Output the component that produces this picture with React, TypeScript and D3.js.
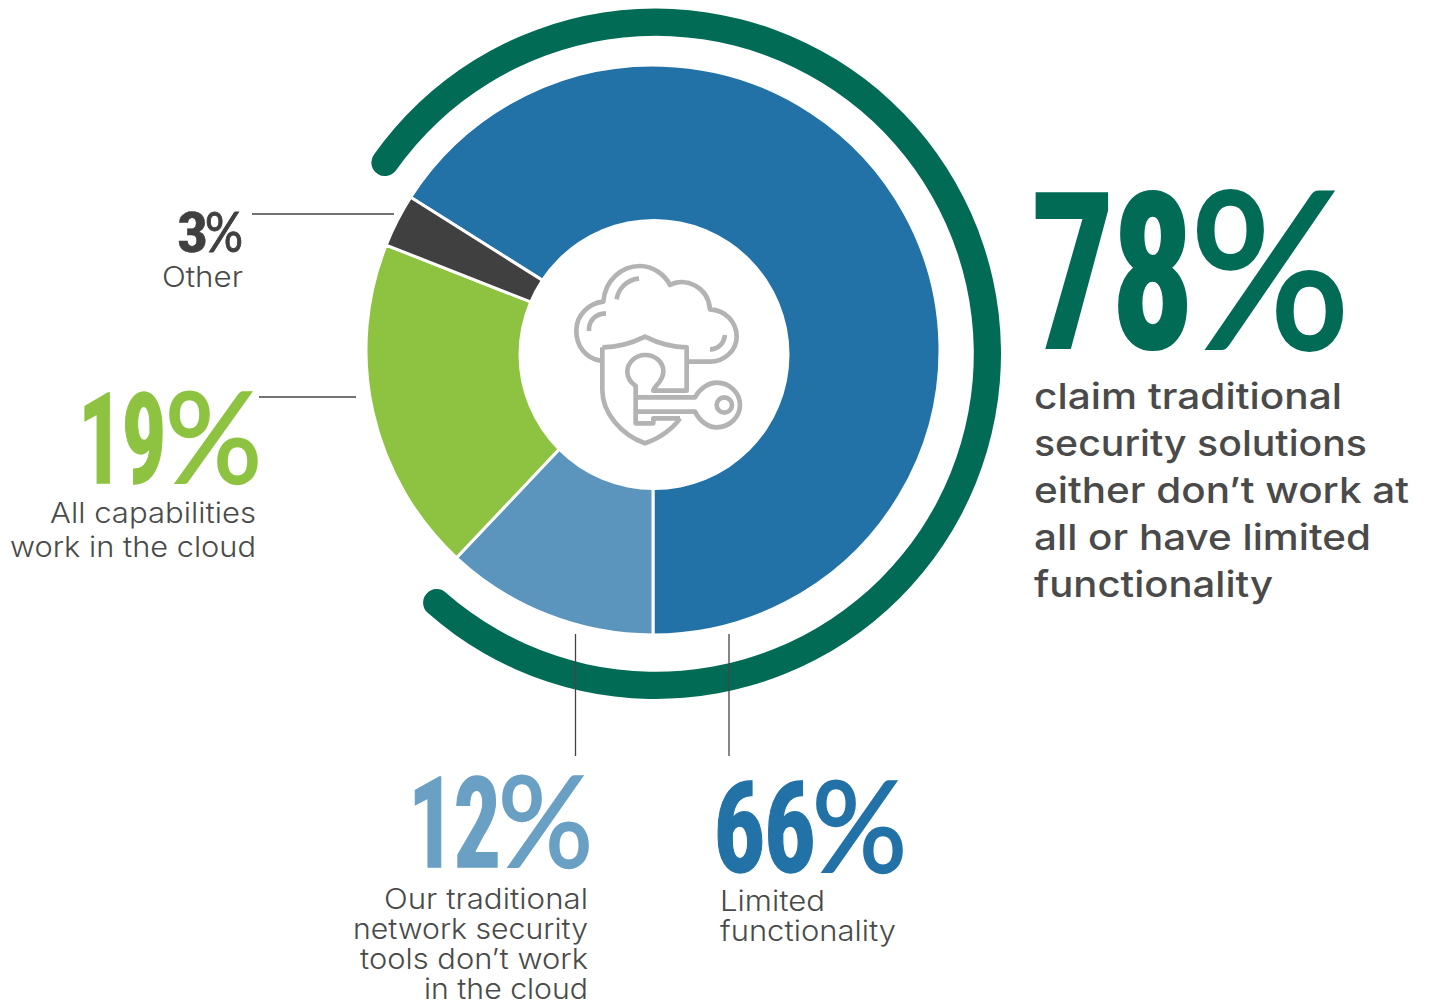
import React from "react";
import * as d3 from "d3";

// Survey answers, in the clockwise order of the donut
const segmentNames = ["Limited functionality", "Network tools fail", "All capabilities", "Other"];
const segmentValues = [66, 12, 19, 3];
const segmentColors = ["#2272a7", "#5b95bd", "#8dc341", "#404040"];
const claimShare = 78;
const claimLines = [
  "claim traditional",
  "security solutions",
  "either don’t work at",
  "all or have limited",
  "functionality",
];
const otherLines = ["Other"];
const capableLines = ["All capabilities", "work in the cloud"];
const networkLines = ["Our traditional", "network security", "tools don’t work", "in the cloud"];
const limitedLines = ["Limited", "functionality"];

const WIDTH = 1429;
const HEIGHT = 1002;
const FOREST = "#026b55";
const BODY = "#4a4a4a";
const LINE_FONT = "Inter, sans-serif";
const NUM_FONT = "'Liberation Sans Narrow', 'Roboto Condensed', Roboto, sans-serif";
const SIGN_FONT = "Lato, sans-serif";

const toRad = (deg: number) => (deg * Math.PI) / 180;

// Condensed percentage: digits and sign are fitted to separate widths
function BigValue(p: {
  value: number; x: number; w: number; px: number; pw: number; y: number; size: number; color: string;
}) {
  return (
    <g fill={p.color} stroke={p.color}>
      <text x={p.x} y={p.y} fontFamily={NUM_FONT} fontWeight={700} fontSize={p.size} strokeWidth={p.size * 0.01}
        letterSpacing={-p.size * 0.02} textLength={p.w} lengthAdjust="spacingAndGlyphs">{p.value}</text>
      <text x={p.px} y={p.y} fontFamily={SIGN_FONT} fontWeight={400} fontSize={p.size} strokeWidth={p.size * 0.018}
        textLength={p.pw} lengthAdjust="spacingAndGlyphs">%</text>
    </g>
  );
}

// Block of text with each line fitted to its own width
function Lines(p: { lines: string[]; widths: number[]; x: number; y: number; dy: number; anchor?: string; size: number; weight: number; color: string }) {
  return (
    <g fontFamily={LINE_FONT} fontSize={p.size} fontWeight={p.weight} fill={p.color} textAnchor={p.anchor ?? "start"}>
      {p.lines.map((l, i) => (
        <text key={l} x={p.x} y={p.y + i * p.dy} textLength={p.widths[i]} lengthAdjust="spacingAndGlyphs">{l}</text>
      ))}
    </g>
  );
}

// Outline icon: cloud, shield and key, in a 600x630 box
function Icon() {
  return (
    <g transform="translate(560 250) scale(0.3333)" fill="none" stroke="#b3b3b3" strokeWidth={14} strokeLinejoin="round" strokeLinecap="butt">
      <path d="M122 332 C75 325 48 285 49 240 C50 195 85 160 130 155 C135 90 185 48 240 48 C280 48 315 75 330 105 C375 80 445 110 450 178 C495 180 530 215 530 260 C530 300 495 335 450 335 L385 335" />
      <path d="M170 148 C175 115 200 90 237 85" />
      <path d="M87 243 C85 215 105 190 138 190" />
      <path d="M450 298 C475 298 492 280 495 255" />
      <path d="M127 292 C175 292 215 280 255 260 C295 280 335 292 380 292 L380 422 L280 422 C280 410 310 395 310 365 C310 335 285 315 255 315 C225 315 202 340 202 365 C202 385 213 398 227 408 L227 520 L280 520 L280 505 L360 505" />
      <path d="M127 292 L127 420 C127 490 185 555 255 580 C300 565 340 535 360 505" />
      <path d="M233 442 L405 442 C420 415 445 398 470 398 C510 398 540 430 540 465 C540 500 510 532 470 532 C445 532 420 515 405 485 L233 485" />
      <circle cx="493" cy="465" r="23" />
    </g>
  );
}

export default function App() {
  const cx = 653;
  const cy = 350;
  const pie = d3.pie<number>().sort(null).startAngle(toRad(-57.6)).endAngle(toRad(302.4));
  const arcs = pie(segmentValues);
  const arc = d3.arc<d3.PieArcDatum<number>>().innerRadius(100).outerRadius(287);
  // Outer band is as long as the combined share it stands for
  const bandStart = toRad(-57.1);
  const band = d3.arc().cornerRadius(13.5)({
    startAngle: bandStart,
    endAngle: bandStart + (claimShare / 100) * 2 * Math.PI,
    innerRadius: 318,
    outerRadius: 345.2,
  }) as string;

  return (
    <svg width={WIDTH} height={HEIGHT} viewBox={`0 0 ${WIDTH} ${HEIGHT}`} style={{ position: "absolute", left: 0, top: 0, background: "#fff" }}>
      <g transform={`translate(${cx} ${cy}) scale(1 0.993)`}>
        {arcs.map((a, i) => (
          <path key={segmentNames[i]} d={arc(a) as string} fill={segmentColors[i]} stroke="#fff" strokeWidth={3} />
        ))}
      </g>
      {/* the hole sits a little below the ring's own centre */}
      <circle cx={654} cy={354.5} r={135.5} fill="#fff" />
      <path d={band} transform="translate(655.8 353.8)" fill={FOREST} />
      <Icon />

      <g stroke="#444" strokeWidth={1.3}>
        <line x1={252} x2={394} y1={214} y2={214} />
        <line x1={259} x2={356} y1={397} y2={397} />
        <line x1={575.5} x2={575.5} y1={634} y2={756} />
        <line x1={729} x2={729} y1={634} y2={756} />
      </g>

      <BigValue value={claimShare} x={1031} w={160} px={1190} pw={160} y={348} size={218} color={FOREST} />
      <BigValue value={segmentValues[2]} x={78} w={87} px={165} pw={97} y={483} size={126} color={segmentColors[2]} />
      <BigValue value={segmentValues[3]} x={177} w={30} px={205} pw={38} y={252} size={56} color={segmentColors[3]} />
      <BigValue value={segmentValues[1]} x={408} w={91} px={498} pw={95} y={867} size={126} color="#69a0c4" />
      <BigValue value={segmentValues[0]} x={713} w={101} px={812} pw={95} y={872} size={126} color={segmentColors[0]} />

      <Lines lines={claimLines} widths={[308, 333, 375, 337, 239]} x={1034} y={409} dy={47} size={36} weight={550} color={BODY} />
      <Lines lines={otherLines} widths={[81]} x={243} y={287} dy={30} anchor="end" size={28} weight={300} color={BODY} />
      <Lines lines={capableLines} widths={[206, 246]} x={256} y={523} dy={34} anchor="end" size={28} weight={300} color={BODY} />
      <Lines lines={networkLines} widths={[204, 235, 228, 164]} x={588} y={909} dy={30} anchor="end" size={28} weight={300} color={BODY} />
      <Lines lines={limitedLines} widths={[105, 176]} x={720} y={911} dy={30} size={28} weight={300} color={BODY} />
    </svg>
  );
}
